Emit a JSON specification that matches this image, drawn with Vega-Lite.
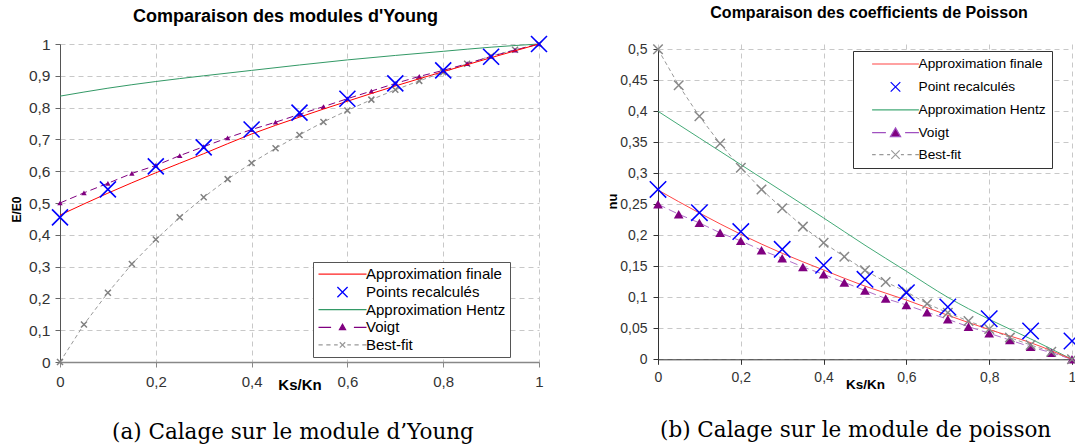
{
  "$schema": "https://vega.github.io/schema/vega-lite/v6.json",
  "padding": {"left": 10, "top": 4, "right": 0, "bottom": 0},
  "background": "white",
  "datasets": {
    "A": [
      {"s": "Approximation finale", "x": 0, "y": 0.462}, {"s": "Approximation finale", "x": 0.1, "y": 0.531}, {"s": "Approximation finale", "x": 0.2, "y": 0.595}, {"s": "Approximation finale", "x": 0.3, "y": 0.655}, {"s": "Approximation finale", "x": 0.4, "y": 0.717}, {"s": "Approximation finale", "x": 0.5, "y": 0.77}, {"s": "Approximation finale", "x": 0.6, "y": 0.82}, {"s": "Approximation finale", "x": 0.7, "y": 0.868}, {"s": "Approximation finale", "x": 0.8, "y": 0.913}, {"s": "Approximation finale", "x": 0.9, "y": 0.957}, {"s": "Approximation finale", "x": 1, "y": 1},
      {"s": "Points recalculés", "x": 0, "y": 0.455}, {"s": "Points recalculés", "x": 0.1, "y": 0.543}, {"s": "Points recalculés", "x": 0.2, "y": 0.615}, {"s": "Points recalculés", "x": 0.3, "y": 0.675}, {"s": "Points recalculés", "x": 0.4, "y": 0.731}, {"s": "Points recalculés", "x": 0.5, "y": 0.784}, {"s": "Points recalculés", "x": 0.6, "y": 0.828}, {"s": "Points recalculés", "x": 0.7, "y": 0.876}, {"s": "Points recalculés", "x": 0.8, "y": 0.917}, {"s": "Points recalculés", "x": 0.9, "y": 0.96}, {"s": "Points recalculés", "x": 1, "y": 1},
      {"s": "Approximation Hentz", "x": 0, "y": 0.836}, {"s": "Approximation Hentz", "x": 0.1, "y": 0.861}, {"s": "Approximation Hentz", "x": 0.2, "y": 0.882}, {"s": "Approximation Hentz", "x": 0.3, "y": 0.9}, {"s": "Approximation Hentz", "x": 0.4, "y": 0.917}, {"s": "Approximation Hentz", "x": 0.5, "y": 0.934}, {"s": "Approximation Hentz", "x": 0.6, "y": 0.95}, {"s": "Approximation Hentz", "x": 0.7, "y": 0.964}, {"s": "Approximation Hentz", "x": 0.8, "y": 0.977}, {"s": "Approximation Hentz", "x": 0.9, "y": 0.99}, {"s": "Approximation Hentz", "x": 1, "y": 1},
      {"s": "Voigt", "x": 0, "y": 0.5}, {"s": "Voigt", "x": 0.05, "y": 0.532}, {"s": "Voigt", "x": 0.1, "y": 0.562}, {"s": "Voigt", "x": 0.15, "y": 0.593}, {"s": "Voigt", "x": 0.2, "y": 0.618}, {"s": "Voigt", "x": 0.25, "y": 0.649}, {"s": "Voigt", "x": 0.3, "y": 0.677}, {"s": "Voigt", "x": 0.35, "y": 0.705}, {"s": "Voigt", "x": 0.4, "y": 0.731}, {"s": "Voigt", "x": 0.45, "y": 0.754}, {"s": "Voigt", "x": 0.5, "y": 0.779}, {"s": "Voigt", "x": 0.55, "y": 0.803}, {"s": "Voigt", "x": 0.6, "y": 0.828}, {"s": "Voigt", "x": 0.65, "y": 0.852}, {"s": "Voigt", "x": 0.7, "y": 0.876}, {"s": "Voigt", "x": 0.75, "y": 0.898}, {"s": "Voigt", "x": 0.8, "y": 0.917}, {"s": "Voigt", "x": 0.85, "y": 0.938}, {"s": "Voigt", "x": 0.9, "y": 0.961}, {"s": "Voigt", "x": 0.95, "y": 0.981}, {"s": "Voigt", "x": 1, "y": 1},
      {"s": "Best-fit", "x": 0, "y": 0}, {"s": "Best-fit", "x": 0.05, "y": 0.118}, {"s": "Best-fit", "x": 0.1, "y": 0.218}, {"s": "Best-fit", "x": 0.15, "y": 0.308}, {"s": "Best-fit", "x": 0.2, "y": 0.385}, {"s": "Best-fit", "x": 0.25, "y": 0.455}, {"s": "Best-fit", "x": 0.3, "y": 0.518}, {"s": "Best-fit", "x": 0.35, "y": 0.575}, {"s": "Best-fit", "x": 0.4, "y": 0.626}, {"s": "Best-fit", "x": 0.45, "y": 0.672}, {"s": "Best-fit", "x": 0.5, "y": 0.714}, {"s": "Best-fit", "x": 0.55, "y": 0.755}, {"s": "Best-fit", "x": 0.6, "y": 0.791}, {"s": "Best-fit", "x": 0.65, "y": 0.825}, {"s": "Best-fit", "x": 0.7, "y": 0.856}, {"s": "Best-fit", "x": 0.75, "y": 0.884}, {"s": "Best-fit", "x": 0.8, "y": 0.911}, {"s": "Best-fit", "x": 0.85, "y": 0.938}, {"s": "Best-fit", "x": 0.9, "y": 0.962}, {"s": "Best-fit", "x": 0.95, "y": 0.982}, {"s": "Best-fit", "x": 1, "y": 1}
    ],
    "B": [
      {"s": "Approximation finale", "x": 0, "y": 0.273}, {"s": "Approximation finale", "x": 0.1, "y": 0.236}, {"s": "Approximation finale", "x": 0.2, "y": 0.2016}, {"s": "Approximation finale", "x": 0.3, "y": 0.171}, {"s": "Approximation finale", "x": 0.4, "y": 0.144}, {"s": "Approximation finale", "x": 0.5, "y": 0.118}, {"s": "Approximation finale", "x": 0.6, "y": 0.0956}, {"s": "Approximation finale", "x": 0.7, "y": 0.071}, {"s": "Approximation finale", "x": 0.8, "y": 0.048}, {"s": "Approximation finale", "x": 0.9, "y": 0.0268}, {"s": "Approximation finale", "x": 1, "y": 0},
      {"s": "Point recalculés", "x": 0, "y": 0.274}, {"s": "Point recalculés", "x": 0.1, "y": 0.2365}, {"s": "Point recalculés", "x": 0.2, "y": 0.206}, {"s": "Point recalculés", "x": 0.3, "y": 0.1774}, {"s": "Point recalculés", "x": 0.4, "y": 0.1516}, {"s": "Point recalculés", "x": 0.5, "y": 0.129}, {"s": "Point recalculés", "x": 0.6, "y": 0.1075}, {"s": "Point recalculés", "x": 0.7, "y": 0.0844}, {"s": "Point recalculés", "x": 0.8, "y": 0.0655}, {"s": "Point recalculés", "x": 0.9, "y": 0.0457}, {"s": "Point recalculés", "x": 1, "y": 0.0295},
      {"s": "Approximation Hentz", "x": 0, "y": 0.4}, {"s": "Approximation Hentz", "x": 0.1, "y": 0.357}, {"s": "Approximation Hentz", "x": 0.2, "y": 0.314}, {"s": "Approximation Hentz", "x": 0.3, "y": 0.271}, {"s": "Approximation Hentz", "x": 0.4, "y": 0.228}, {"s": "Approximation Hentz", "x": 0.5, "y": 0.184}, {"s": "Approximation Hentz", "x": 0.6, "y": 0.142}, {"s": "Approximation Hentz", "x": 0.7, "y": 0.1}, {"s": "Approximation Hentz", "x": 0.8, "y": 0.0645}, {"s": "Approximation Hentz", "x": 0.9, "y": 0.033}, {"s": "Approximation Hentz", "x": 1, "y": 0},
      {"s": "Voigt", "x": 0, "y": 0.25}, {"s": "Voigt", "x": 0.05, "y": 0.234}, {"s": "Voigt", "x": 0.1, "y": 0.22}, {"s": "Voigt", "x": 0.15, "y": 0.204}, {"s": "Voigt", "x": 0.2, "y": 0.191}, {"s": "Voigt", "x": 0.25, "y": 0.176}, {"s": "Voigt", "x": 0.3, "y": 0.163}, {"s": "Voigt", "x": 0.35, "y": 0.149}, {"s": "Voigt", "x": 0.4, "y": 0.137}, {"s": "Voigt", "x": 0.45, "y": 0.124}, {"s": "Voigt", "x": 0.5, "y": 0.111}, {"s": "Voigt", "x": 0.55, "y": 0.098}, {"s": "Voigt", "x": 0.6, "y": 0.0876}, {"s": "Voigt", "x": 0.65, "y": 0.076}, {"s": "Voigt", "x": 0.7, "y": 0.0645}, {"s": "Voigt", "x": 0.75, "y": 0.0526}, {"s": "Voigt", "x": 0.8, "y": 0.042}, {"s": "Voigt", "x": 0.85, "y": 0.031}, {"s": "Voigt", "x": 0.9, "y": 0.02}, {"s": "Voigt", "x": 0.95, "y": 0.0107}, {"s": "Voigt", "x": 1, "y": 0},
      {"s": "Best-fit", "x": 0, "y": 0.5}, {"s": "Best-fit", "x": 0.05, "y": 0.442}, {"s": "Best-fit", "x": 0.1, "y": 0.392}, {"s": "Best-fit", "x": 0.15, "y": 0.348}, {"s": "Best-fit", "x": 0.2, "y": 0.309}, {"s": "Best-fit", "x": 0.25, "y": 0.274}, {"s": "Best-fit", "x": 0.3, "y": 0.2435}, {"s": "Best-fit", "x": 0.35, "y": 0.214}, {"s": "Best-fit", "x": 0.4, "y": 0.188}, {"s": "Best-fit", "x": 0.45, "y": 0.1655}, {"s": "Best-fit", "x": 0.5, "y": 0.1435}, {"s": "Best-fit", "x": 0.55, "y": 0.1247}, {"s": "Best-fit", "x": 0.6, "y": 0.109}, {"s": "Best-fit", "x": 0.65, "y": 0.0897}, {"s": "Best-fit", "x": 0.7, "y": 0.075}, {"s": "Best-fit", "x": 0.75, "y": 0.0618}, {"s": "Best-fit", "x": 0.8, "y": 0.049}, {"s": "Best-fit", "x": 0.85, "y": 0.035}, {"s": "Best-fit", "x": 0.9, "y": 0.023}, {"s": "Best-fit", "x": 0.95, "y": 0.0123}, {"s": "Best-fit", "x": 1, "y": 0}
    ]
  },
  "config": {
    "view": {"stroke": null},
    "font": "Liberation Sans",
    "axis": {"gridDash": [5, 4], "gridColor": "#c8c8c8", "gridWidth": 1, "labelColor": "#333333", "labelFont": "Liberation Sans", "titleFont": "Liberation Sans", "titleColor": "#000000", "tickSize": 5, "labelFlush": false, "labelOverlap": false}
  },
  "resolve": {"scale": {"color": "independent", "shape": "independent", "fill": "independent"}, "legend": {"color": "independent", "shape": "independent", "fill": "independent"}},
  "spacing": 55,
  "hconcat": [
    {
      "title": {"text": "(a) Calage sur le module d’Young", "orient": "bottom", "font": "DejaVu Serif", "fontSize": 21.5, "fontWeight": "normal", "color": "#000000", "offset": 30, "dx": 102},
      "vconcat": [
        {
          "width": 479,
          "height": 318,
          "title": {"text": "Comparaison des modules d'Young", "font": "Liberation Sans", "fontSize": 18, "fontWeight": "bold", "color": "#000000", "dx": -14, "offset": 6.5},
          "data": {"name": "A"},
          "encoding": {
            "x": {"field": "x", "type": "quantitative", "scale": {"domain": [0, 1]},
              "axis": {"values": [0, 0.2, 0.4, 0.6, 0.8, 1], "title": "Ks/Kn", "titleFontSize": 15, "titleFontWeight": "bold", "titleY": 22, "titleBaseline": "middle", "labelFontSize": 15, "labelPadding": 7, "labelExpr": "replace(format(datum.value, '~g'), '.', ',')", "domainColor": "#888888", "domainWidth": 1.5, "tickColor": "#888888"}},
            "y": {"field": "y", "type": "quantitative", "scale": {"domain": [0, 1]},
              "axis": {"values": [0, 0.1, 0.2, 0.3, 0.4, 0.5, 0.6, 0.7, 0.8, 0.9, 1], "title": "E/E0", "titleFontSize": 12, "titleFontWeight": "bold", "titleX": -44, "titleY": 165, "titleAlign": "center", "titleBaseline": "middle", "labelFontSize": 15.5, "labelPadding": 5, "labelExpr": "replace(format(datum.value, '~g'), '.', ',')", "domainColor": "#555555", "tickColor": "#666666"}}
          },
          "layer": [
            {
              "transform": [{"filter": "datum.s === 'Best-fit'"}],
              "mark": {"type": "line", "strokeDash": [4, 3], "strokeWidth": 1, "color": "#999999"},
              "encoding": {}
            },
            {
              "transform": [{"filter": "datum.s === 'Best-fit'"}],
              "mark": {"type": "point", "shape": "M-1,-1L1,1M-1,1L1,-1", "filled": false, "size": 36, "strokeWidth": 1.5, "color": "#808080", "opacity": 1},
              "encoding": {}
            },
            {
              "transform": [{"filter": "datum.s === 'Approximation Hentz'"}],
              "mark": {"type": "line", "strokeWidth": 1, "interpolate": "monotone", "color": "#339966"},
              "encoding": {}
            },
            {
              "transform": [{"filter": "datum.s === 'Voigt'"}],
              "mark": {"type": "line", "strokeDash": [7, 4], "strokeWidth": 1, "color": "#800080"},
              "encoding": {}
            },
            {
              "transform": [{"filter": "datum.s === 'Voigt'"}],
              "mark": {"type": "point", "shape": "triangle-up", "filled": true, "size": 30, "opacity": 1, "color": "#800080"},
              "encoding": {}
            },
            {
              "transform": [{"filter": "datum.s === 'Approximation finale'"}],
              "mark": {"type": "line", "strokeWidth": 1, "interpolate": "monotone", "color": "#ff0000"},
              "encoding": {}
            },
            {
              "transform": [{"filter": "datum.s === 'Points recalculés'"}],
              "mark": {"type": "point", "shape": "M-1,-1L1,1M-1,1L1,-1", "filled": false, "size": 256, "strokeWidth": 1.6, "opacity": 1, "color": "#0000ff"},
              "encoding": {}
            },
            {
              "transform": [{"filter": "datum.x === 0"}],
              "mark": {"type": "point", "filled": false, "opacity": 0},
              "encoding": {
                "color": {"field": "s", "type": "nominal",
                  "scale": {"domain": ["Approximation finale", "Points recalculés", "Approximation Hentz", "Voigt", "Best-fit"], "range": ["#ff2020", "#0000ff", "#339966", "#800080", "#999999"]},
                  "legend": {"title": null, "orient": "none", "legendX": 253, "legendY": 218, "symbolSize": 144, "symbolOffset": 18, "labelOffset": 16, "symbolStrokeWidth": 1.3, "symbolOpacity": 1, "labelFontSize": 15, "labelFont": "Liberation Sans", "labelColor": "#000000", "strokeColor": "#555555", "fillColor": "white", "padding": 4, "rowPadding": 1.6}},
                "shape": {"field": "s", "type": "nominal",
                  "scale": {"domain": ["Approximation finale", "Points recalculés", "Approximation Hentz", "Voigt", "Best-fit"], "range": ["M-4,0.1H4", "M-0.85,-0.85L0.85,0.85M-0.85,0.85L0.85,-0.85", "M-4,0H4", "M-4,0H-1.9M1.9,0H4M0,-0.5L0.5,0.4L-0.5,0.4Z", "M-4,0H-3.3M-2.7,0H-2M-1.4,0H-0.8M0.8,0H1.4M2,0H2.7M3.3,0H4M-0.45,-0.45L0.45,0.45M-0.45,0.45L0.45,-0.45"]},
                  "legend": {"title": null, "orient": "none", "legendX": 253, "legendY": 218, "symbolSize": 144, "symbolOffset": 18, "labelOffset": 16, "symbolStrokeWidth": 1.3, "symbolOpacity": 1, "labelFontSize": 15, "labelFont": "Liberation Sans", "labelColor": "#000000", "strokeColor": "#555555", "fillColor": "white", "padding": 4, "rowPadding": 1.6}},
                "fill": {"field": "s", "type": "nominal",
                  "scale": {"domain": ["Approximation finale", "Points recalculés", "Approximation Hentz", "Voigt", "Best-fit"], "range": ["transparent", "transparent", "transparent", "#800080", "transparent"]},
                  "legend": {"title": null, "orient": "none", "legendX": 253, "legendY": 218, "symbolSize": 144, "symbolOffset": 18, "labelOffset": 16, "symbolStrokeWidth": 1.3, "symbolOpacity": 1, "labelFontSize": 15, "labelFont": "Liberation Sans", "labelColor": "#000000", "strokeColor": "#555555", "fillColor": "white", "padding": 4, "rowPadding": 1.6}}
              }
            }
          ]
        }
      ]
    },
    {
      "title": {"text": "(b) Calage sur le module de poisson", "orient": "bottom", "font": "DejaVu Serif", "fontSize": 21.5, "fontWeight": "normal", "color": "#000000", "offset": 29, "dx": 54},
      "vconcat": [
        {
          "width": 414,
          "height": 315.3,
          "title": {"text": "Comparaison des coefficients de Poisson", "font": "Liberation Sans", "fontSize": 16, "fontWeight": "bold", "color": "#000000", "dx": 4, "offset": 21},
          "data": {"name": "B"},
          "encoding": {
            "x": {"field": "x", "type": "quantitative", "scale": {"domain": [0, 1]},
              "axis": {"values": [0, 0.2, 0.4, 0.6, 0.8, 1], "title": "Ks/Kn", "titleFontSize": 13.5, "titleFontWeight": "bold", "titleY": 25, "titleBaseline": "middle", "labelFontSize": 14, "labelPadding": 6, "labelExpr": "replace(format(datum.value, '~g'), '.', ',')", "domainColor": "#333333", "tickColor": "#333333"}},
            "y": {"field": "y", "type": "quantitative", "scale": {"domain": [0, 0.5], "range": [315.3, 5.3]},
              "axis": {"values": [0, 0.05, 0.1, 0.15, 0.2, 0.25, 0.3, 0.35, 0.4, 0.45, 0.5], "title": "nu", "titleFontSize": 13, "titleFontWeight": "bold", "titleX": -46, "titleY": 157, "titleAlign": "center", "titleBaseline": "middle", "labelFontSize": 14, "labelPadding": 6, "labelExpr": "replace(format(datum.value, '~g'), '.', ',')", "domainColor": "#333333", "tickColor": "#333333"}}
          },
          "layer": [
            {
              "transform": [{"filter": "datum.s === 'Best-fit'"}],
              "mark": {"type": "line", "strokeDash": [4, 3], "strokeWidth": 1, "color": "#999999"},
              "encoding": {}
            },
            {
              "transform": [{"filter": "datum.s === 'Approximation Hentz'"}],
              "mark": {"type": "line", "strokeWidth": 1, "interpolate": "monotone", "color": "#44aa77"},
              "encoding": {}
            },
            {
              "transform": [{"filter": "datum.s === 'Voigt'"}],
              "mark": {"type": "line", "strokeDash": [8, 4], "strokeWidth": 1, "color": "#b070c8"},
              "encoding": {}
            },
            {
              "transform": [{"filter": "datum.s === 'Approximation finale'"}],
              "mark": {"type": "line", "strokeWidth": 1, "interpolate": "monotone", "color": "#ff4444"},
              "encoding": {}
            },
            {
              "transform": [{"filter": "datum.s === 'Voigt'"}],
              "mark": {"type": "point", "shape": "triangle-up", "filled": true, "size": 95, "opacity": 1, "color": "#800080"},
              "encoding": {}
            },
            {
              "transform": [{"filter": "datum.s === 'Best-fit'"}],
              "mark": {"type": "point", "shape": "M-1,-1L1,1M-1,1L1,-1", "filled": false, "size": 90, "strokeWidth": 1.5, "color": "#888888", "opacity": 1},
              "encoding": {}
            },
            {
              "transform": [{"filter": "datum.s === 'Point recalculés'"}],
              "mark": {"type": "point", "shape": "M-1,-1L1,1M-1,1L1,-1", "filled": false, "size": 270, "strokeWidth": 1.5, "opacity": 1, "color": "#0000ff"},
              "encoding": {}
            },
            {
              "transform": [{"filter": "datum.x === 0"}],
              "mark": {"type": "point", "filled": false, "opacity": 0},
              "encoding": {
                "color": {"field": "s", "type": "nominal",
                  "scale": {"domain": ["Approximation finale", "Point recalculés", "Approximation Hentz", "Voigt", "Best-fit"], "range": ["#ff4444", "#0000ff", "#44aa77", "#a050c0", "#999999"]},
                  "legend": {"title": null, "orient": "none", "legendX": 195, "legendY": 7, "symbolSize": 144, "symbolOffset": 29.5, "labelOffset": 16, "symbolStrokeWidth": 1.2, "symbolOpacity": 1, "labelFontSize": 13.7, "labelFont": "Liberation Sans", "labelColor": "#000000", "strokeColor": "#333333", "fillColor": "white", "padding": 6, "rowPadding": 7.9}},
                "shape": {"field": "s", "type": "nominal",
                  "scale": {"domain": ["Approximation finale", "Point recalculés", "Approximation Hentz", "Voigt", "Best-fit"], "range": ["M-3.9,0H3.9", "M-0.8,-0.8L0.8,0.8M-0.8,0.8L0.8,-0.8", "M-3.9,0H3.9", "M-3.9,0H-1.6M1.6,0H3.9M0,-0.8L0.85,0.65L-0.85,0.65Z", "M-3.9,0H-3.3M-2.7,0H-2M-1.4,0H-0.9M0.9,0H1.4M2,0H2.7M3.3,0H3.9M-0.7,-0.7L0.7,0.7M-0.7,0.7L0.7,-0.7"]},
                  "legend": {"title": null, "orient": "none", "legendX": 195, "legendY": 7, "symbolSize": 144, "symbolOffset": 29.5, "labelOffset": 16, "symbolStrokeWidth": 1.2, "symbolOpacity": 1, "labelFontSize": 13.7, "labelFont": "Liberation Sans", "labelColor": "#000000", "strokeColor": "#333333", "fillColor": "white", "padding": 6, "rowPadding": 7.9}},
                "fill": {"field": "s", "type": "nominal",
                  "scale": {"domain": ["Approximation finale", "Point recalculés", "Approximation Hentz", "Voigt", "Best-fit"], "range": ["transparent", "transparent", "transparent", "#800080", "transparent"]},
                  "legend": {"title": null, "orient": "none", "legendX": 195, "legendY": 7, "symbolSize": 144, "symbolOffset": 29.5, "labelOffset": 16, "symbolStrokeWidth": 1.2, "symbolOpacity": 1, "labelFontSize": 13.7, "labelFont": "Liberation Sans", "labelColor": "#000000", "strokeColor": "#333333", "fillColor": "white", "padding": 6, "rowPadding": 7.9}}
              }
            }
          ]
        }
      ]
    }
  ]
}
